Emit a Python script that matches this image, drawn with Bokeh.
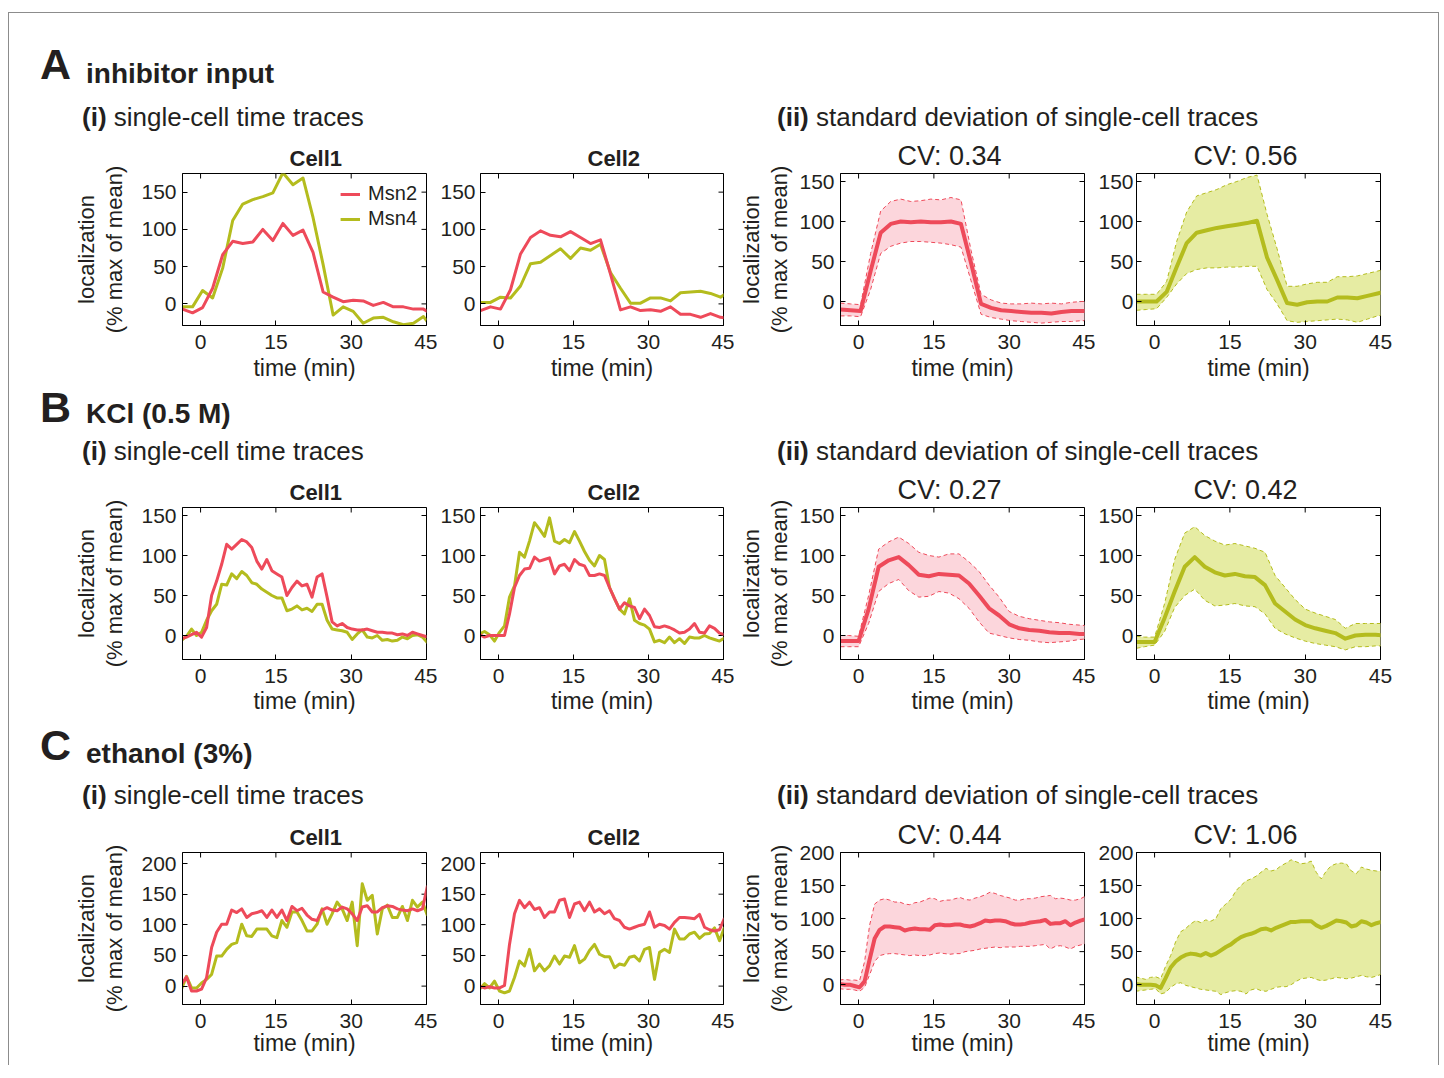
import math
from bokeh.plotting import figure
from bokeh.models import Range1d, LinearAxis, FixedTicker, Legend, LegendItem, Div
from bokeh.layouts import row, column
from bokeh.embed import file_html
from bokeh.resources import INLINE

# ---------------- data ----------------
X_TICKS = [0, 15, 30, 45]
TICKS_150 = [0, 50, 100, 150]
TICKS_200 = [0, 50, 100, 150, 200]

# A: inhibitor input, sampled every 2 min
T_A = [-3.6, -1.6, 0.4, 2.4, 4.4, 6.4, 8.4, 10.4, 12.4, 14.4, 16.4, 18.4, 20.4,
       22.4, 24.4, 26.4, 28.4, 30.4, 32.4, 34.4, 36.4, 38.4, 40.4, 42.4, 44.4, 46.4]
A_C1_MSN2 = [-7, -12, -5, 21, 66, 84, 81, 83, 100, 85, 108, 92, 99, 69, 16, 9, 3, 5, 4, -2, 2, -4, -4, -7, -7, -15]
A_C1_MSN4 = [-4, -4, 18, 8, 48, 112, 134, 140, 144, 149, 176, 160, 169, 116, 53, -15, -4, -10, -26, -19, -18, -24, -28, -26, -17, -35]
A_C2_MSN2 = [-9, -4, -7, 19, 67, 89, 98, 92, 90, 97, 89, 81, 86, 40, -8, -4, -9, -8, -10, -4, -14, -14, -18, -13, -18, -20]
A_C2_MSN4 = [2, 2, 9, 8, 24, 54, 56, 65, 74, 61, 75, 72, 80, 42, 21, 1, 1, 8, 8, 4, 15, 16, 17, 14, 9, 18]
A_SD2_MEAN = [-10, -11, -12, 38, 86, 97, 100, 99, 100, 99, 99, 100, 97, 48, -3, -8, -11, -12, -13, -14, -14, -15, -13, -12, -12, -12]
A_SD2_UP = [-2, -3, -4, 60, 113, 125, 128, 125, 126, 128, 127, 130, 127, 64, 9, 2, -2, -3, -3, -2, -3, -2, -3, -1, 0, 0]
A_SD2_LO = [-18, -18, -19, 15, 60, 69, 73, 75, 75, 74, 73, 71, 68, 26, -16, -20, -22, -24, -25, -26, -27, -26, -25, -25, -24, -24]
A_SD4_MEAN = [0, 0, 0, 12, 43, 73, 86, 89, 92, 94, 96, 98, 101, 55, 27, -2, -4, -1, 0, 0, 5, 5, 4, 7, 10, 13]
A_SD4_UP = [9, 9, 9, 25, 75, 112, 132, 136, 140, 146, 150, 155, 158, 109, 66, 19, 19, 22, 24, 24, 31, 31, 32, 35, 38, 41]
A_SD4_LO = [-11, -10, -9, 5, 22, 35, 40, 42, 42, 43, 43, 44, 44, 15, -3, -24, -26, -25, -24, -23, -22, -23, -26, -22, -18, -16]
CV_A = ["CV: 0.34", "CV: 0.56"]

# B / C single cells, sampled every minute
T_1MIN = [-3.8, -2.8, -1.8, -0.8, 0.2, 1.2, 2.2, 3.2, 4.2, 5.2, 6.2, 7.2, 8.2, 9.2,
          10.2, 11.2, 12.2, 13.2, 14.2, 15.2, 16.2, 17.2, 18.2, 19.2, 20.2, 21.2,
          22.2, 23.2, 24.2, 25.2, 26.2, 27.2, 28.2, 29.2, 30.2, 31.2, 32.2, 33.2,
          34.2, 35.2, 36.2, 37.2, 38.2, 39.2, 40.2, 41.2, 42.2, 43.2, 44.2, 45.2]
B_C1_MSN2 = [-4, -2, 1, 4, -2, 10, 50, 68, 89, 114, 108, 114, 120, 117, 110, 93, 83, 95, 81, 77,
             73, 50, 60, 68, 62, 64, 48, 73, 77, 48, 17, 12, 15, 10, 8, 7, 7, 8, 6, 4,
             4, 3, 3, 1, 2, 0, 4, 2, 0, -2]
B_C1_MSN4 = [-6, -1, 8, 0, 4, 19, 31, 39, 64, 63, 77, 71, 80, 75, 66, 64, 58, 54, 50, 47,
             47, 31, 33, 37, 32, 34, 30, 39, 39, 19, 8, 7, 6, 4, -5, 2, 7, -2, -3, 0,
             -6, -5, -7, -6, -2, -4, 0, 1, -2, -9]
B_C2_MSN2 = [1, -2, 0, 0, 0, 0, 27, 60, 75, 83, 84, 98, 93, 95, 97, 77, 87, 89, 81, 95,
             89, 87, 75, 75, 77, 75, 60, 46, 33, 41, 37, 35, 21, 33, 25, 11, 10, 12, 10, 7,
             3, 4, 8, 15, 4, 3, 12, 9, 3, 1]
B_C2_MSN4 = [2, 5, 1, -7, 4, 12, 48, 62, 104, 98, 118, 141, 133, 124, 147, 118, 115, 120, 116, 130,
             118, 105, 94, 87, 100, 95, 60, 46, 33, 27, 46, 19, 15, 13, 8, -8, -6, -9, -2, -9,
             -4, -10, -2, -3, -3, 0, -3, -5, -7, -3]
T_B_SD = [-3.6, -2, 0, 2, 4, 6, 8, 10, 12, 14, 16, 18, 20, 22, 24, 26, 28, 30, 32, 34, 36, 38, 40, 42, 44, 46]
B_SD2_MEAN = [-7, -7, -7, 33, 86, 94, 98, 88, 76, 74, 77, 76, 75, 65, 50, 34, 25, 14, 9, 7, 6, 4, 3, 3, 2, 2]
B_SD2_UP = [0, 0, -1, 50, 108, 117, 123, 115, 104, 100, 98, 102, 102, 92, 80, 63, 48, 30, 24, 21, 19, 17, 16, 14, 13, 12]
B_SD2_LO = [-14, -14, -14, 15, 55, 65, 70, 56, 48, 49, 55, 53, 46, 34, 17, 3, 0, -3, -5, -6, -8, -9, -8, -7, -5, -4]
B_SD4_MEAN = [-8, -8, -8, 22, 55, 86, 98, 86, 79, 75, 77, 74, 73, 63, 40, 30, 20, 13, 9, 6, 3, -4, 0, 1, 1, 0]
B_SD4_UP = [-1, -2, -2, 40, 95, 128, 136, 125, 118, 113, 115, 112, 109, 104, 75, 60, 45, 33, 28, 24, 20, 9, 15, 15, 15, 15]
B_SD4_LO = [-16, -14, -12, 5, 35, 50, 58, 44, 37, 38, 40, 37, 36, 27, 9, 2, -3, -7, -10, -12, -14, -18, -14, -14, -13, -13]
CV_B = ["CV: 0.27", "CV: 0.42"]

C_C1_MSN2 = [3, 15, -8, -8, -5, 14, 63, 88, 101, 101, 124, 120, 126, 112, 118, 120, 123, 112, 124, 112,
             124, 107, 130, 123, 127, 116, 109, 107, 124, 128, 124, 123, 129, 126, 118, 107, 129, 131, 121, 121,
             128, 131, 130, 126, 124, 123, 126, 123, 126, 164]
C_C1_MSN4 = [-5, 16, -3, -3, 5, 11, 19, 49, 49, 60, 68, 71, 101, 82, 81, 93, 93, 93, 82, 79,
             107, 96, 121, 121, 107, 90, 90, 101, 126, 101, 118, 137, 126, 107, 137, 66, 167, 140, 148, 85,
             126, 132, 112, 112, 130, 107, 140, 129, 137, 115]
C_C2_MSN2 = [0, -3, -1, -3, -3, 1, 68, 118, 140, 128, 137, 125, 128, 112, 121, 121, 140, 142, 112, 134,
             137, 123, 137, 121, 126, 118, 123, 110, 107, 96, 93, 96, 99, 101, 121, 96, 101, 99, 93, 104,
             112, 112, 111, 110, 117, 96, 92, 90, 92, 111]
C_C2_MSN4 = [-5, 4, -3, 8, -8, -11, -8, 14, 41, 33, 60, 25, 36, 25, 33, 49, 36, 49, 47, 66,
             38, 44, 58, 68, 52, 48, 48, 30, 36, 34, 47, 49, 41, 60, 63, 11, 55, 60, 55, 93,
             77, 77, 85, 88, 78, 85, 86, 95, 74, 96]
C_SD2_MEAN = [1, 0, 0, -2, -4, 5, 38, 70, 83, 88, 88, 87, 86, 82, 84, 85, 84, 84, 83, 90,
              91, 90, 90, 91, 91, 89, 88, 90, 93, 97, 96, 97, 97, 96, 93, 91, 91, 92, 94, 95,
              96, 98, 92, 93, 93, 96, 90, 94, 97, 99]
C_SD2_UP = [7, 8, 7, 7, 6, 35, 90, 122, 128, 130, 128, 125, 125, 122, 121, 124, 125, 128, 131, 130,
            126, 128, 128, 130, 132, 129, 128, 131, 133, 136, 140, 138, 135, 133, 131, 128, 128, 130, 130, 131,
            133, 134, 135, 130, 131, 130, 128, 128, 130, 134]
C_SD2_LO = [-6, -7, -7, -8, -10, -4, 15, 35, 44, 46, 47, 47, 46, 45, 44, 45, 44, 44, 45, 47,
            48, 47, 46, 47, 47, 50, 51, 52, 54, 55, 56, 57, 56, 57, 57, 57, 58, 58, 58, 59,
            60, 61, 54, 58, 59, 57, 54, 58, 60, 62]
C_SD4_MEAN = [1, 0, 0, 0, -1, -5, 10, 26, 35, 41, 45, 47, 46, 44, 48, 44, 47, 52, 57, 61,
              67, 72, 75, 77, 80, 84, 85, 82, 86, 89, 92, 95, 95, 96, 96, 96, 90, 86, 89, 93,
              97, 96, 94, 88, 90, 96, 94, 90, 93, 95]
C_SD4_UP = [12, 10, 8, 11, 12, 9, 28, 44, 65, 80, 85, 92, 97, 94, 98, 96, 100, 115, 122, 129,
            142, 150, 157, 160, 164, 170, 176, 172, 174, 180, 184, 189, 186, 183, 184, 187, 170, 160, 172, 180,
            183, 184, 183, 172, 168, 178, 175, 173, 172, 172]
C_SD4_LO = [-10, -9, -8, -7, -6, -14, -12, -4, 1, 3, -1, -3, -5, -7, -8, -9, -10, -15, -12, -10,
            -9, -10, -14, -8, -6, -9, -10, -7, -4, -3, -3, 0, 5, 9, 10, 11, 8, 6, 7, 9,
            11, 10, 9, 10, 12, 14, 12, 11, 13, 16]
CV_C = ["CV: 0.44", "CV: 1.06"]

# ---------------- styling ----------------
FONT = "Liberation Sans"
TXT = "#231f20"
RED = "#ee4a5a"
YEL = "#b4bc1e"
RED_FILL = "#fcd6dc"
YEL_FILL = "#e6eca3"

# per column: (left border, frame width, right border, y tick label standoff)
COLS = [(173, 244, 11, 6), (43, 243, 11, 5), (106, 244, 11, 6), (41, 244, 58, 3)]
YLAB_STANDOFF = {0: (11, 1), 2: (4, 1)}
TOP_B = 38
BOT_B = 61
FRAME_H = 152
X_RANGE = (-3.6, 45)
ROOT_W = sum(c[0] + c[1] + c[2] for c in COLS)
# title placement (left-aligned offsets; text widths from Arial/Liberation metrics)
CELL_TITLE_OFFSET = 107   # bold 22px "CellN" (~53px wide) centred ~11px right of frame centre
CV_TITLE_OFFSET = 57      # 27px "CV: x.xx" (~105px wide) centred ~13px left of frame centre


def style_axis(ax, ticks, standoff):
    ax.ticker = FixedTicker(ticks=ticks)
    ax.major_tick_in = 5
    ax.major_tick_out = 0
    ax.minor_tick_line_color = None
    ax.axis_line_color = "black"
    ax.major_tick_line_color = "black"
    ax.major_label_text_font = FONT
    ax.major_label_text_color = TXT
    ax.major_label_text_font_size = "21px"
    ax.major_label_standoff = standoff


def make_fig(col, y_range, yticks, title, bold, ylabel, xlab_standoff):
    left, fw, right, ystand = COLS[col]
    p = figure(width=left + fw + right, height=TOP_B + FRAME_H + BOT_B,
               x_range=Range1d(*X_RANGE), y_range=Range1d(*y_range),
               toolbar_location=None, output_backend="svg",
               min_border_left=left, min_border_right=right,
               min_border_top=TOP_B, min_border_bottom=BOT_B)
    p.grid.visible = False
    p.outline_line_color = "black"
    p.background_fill_color = "white"
    p.border_fill_color = "white"
    style_axis(p.xaxis[0], X_TICKS, 9)
    style_axis(p.yaxis[0], yticks, ystand)
    p.xaxis.axis_label = "time (min)"
    p.xaxis.axis_label_text_font = FONT
    p.xaxis.axis_label_text_font_size = "23px"
    p.xaxis.axis_label_text_font_style = "normal"
    p.xaxis.axis_label_text_color = TXT
    p.xaxis.axis_label_standoff = xlab_standoff

    # title
    p.title.text = title
    p.title.align = "left"
    p.title.text_font = FONT
    p.title.text_color = TXT
    p.title.text_font_size = "22px" if bold else "27px"
    p.title.text_font_style = "bold" if bold else "normal"
    p.title.standoff = 6
    p.title.offset = CELL_TITLE_OFFSET if bold else CV_TITLE_OFFSET

    # inward tick marks on the top and right edges (clipped half of a dash marker)
    x0, x1 = X_RANGE
    y0, y1 = y_range
    p.scatter(x=X_TICKS, y=[y1] * len(X_TICKS), marker="dash", angle=math.pi / 2,
              size=10, line_color="black", line_width=1)
    p.scatter(x=[x1] * len(yticks), y=yticks, marker="dash",
              size=10, line_color="black", line_width=1)

    if ylabel:
        s1, s2 = YLAB_STANDOFF[col]
        ax = p.yaxis[0]
        ax.axis_label = "(% max of mean)"
        ax.axis_label_text_font = FONT
        ax.axis_label_text_font_size = "22px"
        ax.axis_label_text_font_style = "normal"
        ax.axis_label_text_color = TXT
        ax.axis_label_standoff = s1
        outer = LinearAxis(ticker=FixedTicker(ticks=[]), axis_line_color=None,
                           major_tick_line_color=None, minor_tick_line_color=None,
                           major_tick_out=0, major_tick_in=0, major_label_standoff=0,
                           axis_label="localization", axis_label_text_font=FONT,
                           axis_label_text_font_size="22px",
                           axis_label_text_font_style="normal",
                           axis_label_text_color=TXT, axis_label_standoff=s2)
        p.add_layout(outer, "left")
    return p


def cell_panel(col, t, msn2, msn4, y_range, yticks, title, ylabel, xs, legend=False):
    p = make_fig(col, y_range, yticks, title, True, ylabel, xs)
    r4 = p.line(t, msn4, line_color=YEL, line_width=3, line_join="round")
    r2 = p.line(t, msn2, line_color=RED, line_width=3, line_join="round")
    if legend:
        lg = Legend(items=[LegendItem(label="Msn2", renderers=[r2]),
                           LegendItem(label="Msn4", renderers=[r4])],
                    location="top_right", border_line_color=None,
                    background_fill_alpha=0, label_text_font=FONT,
                    label_text_font_size="20px", label_text_color=TXT,
                    glyph_width=20, glyph_height=20, label_height=20,
                    label_standoff=8, spacing=2, margin=9, padding=5)
        p.add_layout(lg)
    return p


def sd_panel(col, t, mean, up, lo, color, fill, y_range, yticks, title, ylabel, xs):
    p = make_fig(col, y_range, yticks, title, False, ylabel, xs)
    p.varea(x=t, y1=lo, y2=up, fill_color=fill, fill_alpha=1)
    p.line(t, up, line_color=color, line_width=1, line_dash="4 3")
    p.line(t, lo, line_color=color, line_width=1, line_dash="4 3")
    p.line(t, mean, line_color=color, line_width=4, line_join="round")
    return p


def heading_div(height, letter, letter_top, title, title_top, sub_top):
    base = "position:absolute;white-space:nowrap;line-height:1;font-family:'Liberation Sans';color:#231f20;"
    html = (
        f'<div style="position:relative;width:{ROOT_W}px;height:{height}px;">'
        f'<span style="{base}left:31px;top:{letter_top}px;font-size:43px;font-weight:bold;">{letter}</span>'
        f'<span style="{base}left:77px;top:{title_top}px;font-size:28px;font-weight:bold;">{title}</span>'
        f'<span style="{base}left:73px;top:{sub_top}px;font-size:26px;"><b>(i)</b> single-cell time traces</span>'
        f'<span style="{base}left:768px;top:{sub_top}px;font-size:26px;"><b>(ii)</b> standard deviation of single-cell traces</span>'
        f'</div>')
    return Div(text=html, width=ROOT_W, height=height, margin=0)


div_a = heading_div(122, "A", 30, "inhibitor input", 47, 91)
row_a = row(
    cell_panel(0, T_A, A_C1_MSN2, A_C1_MSN4, (-29, 175), TICKS_150, "Cell1", True, 3, legend=True),
    cell_panel(1, T_A, A_C2_MSN2, A_C2_MSN4, (-29, 175), TICKS_150, "Cell2", False, 3),
    sd_panel(2, T_A, A_SD2_MEAN, A_SD2_UP, A_SD2_LO, RED, RED_FILL, (-30, 160), TICKS_150, CV_A[0], True, 3),
    sd_panel(3, T_A, A_SD4_MEAN, A_SD4_UP, A_SD4_LO, YEL, YEL_FILL, (-30, 160), TICKS_150, CV_A[1], False, 3),
)
div_b = heading_div(83, "B", 0, "KCl (0.5 M)", 14, 52)
row_b = row(
    cell_panel(0, T_1MIN, B_C1_MSN2, B_C1_MSN4, (-30, 160), TICKS_150, "Cell1", True, 2),
    cell_panel(1, T_1MIN, B_C2_MSN2, B_C2_MSN4, (-30, 160), TICKS_150, "Cell2", False, 2),
    sd_panel(2, T_B_SD, B_SD2_MEAN, B_SD2_UP, B_SD2_LO, RED, RED_FILL, (-30, 160), TICKS_150, CV_B[0], True, 2),
    sd_panel(3, T_B_SD, B_SD4_MEAN, B_SD4_UP, B_SD4_LO, YEL, YEL_FILL, (-30, 160), TICKS_150, CV_B[1], False, 2),
)
div_c = heading_div(94, "C", 4, "ethanol (3%)", 20, 62)
row_c = row(
    cell_panel(0, T_1MIN, C_C1_MSN2, C_C1_MSN4, (-30, 218), TICKS_200, "Cell1", True, -1),
    cell_panel(1, T_1MIN, C_C2_MSN2, C_C2_MSN4, (-30, 218), TICKS_200, "Cell2", False, -1),
    sd_panel(2, T_1MIN, C_SD2_MEAN, C_SD2_UP, C_SD2_LO, RED, RED_FILL, (-30, 200), TICKS_200, CV_C[0], True, -1),
    sd_panel(3, T_1MIN, C_SD4_MEAN, C_SD4_UP, C_SD4_LO, YEL, YEL_FILL, (-30, 200), TICKS_200, CV_C[1], False, -1),
)

root = column(div_a, row_a, div_b, row_b, div_c, row_c,
              margin=(12, 0, 0, 8),
              styles={"border-top": "1px solid #8c8c8c",
                      "border-left": "1px solid #8c8c8c",
                      "border-right": "1px solid #8c8c8c"})

with open("out.html", "w") as f:
    f.write(file_html(root, INLINE))
